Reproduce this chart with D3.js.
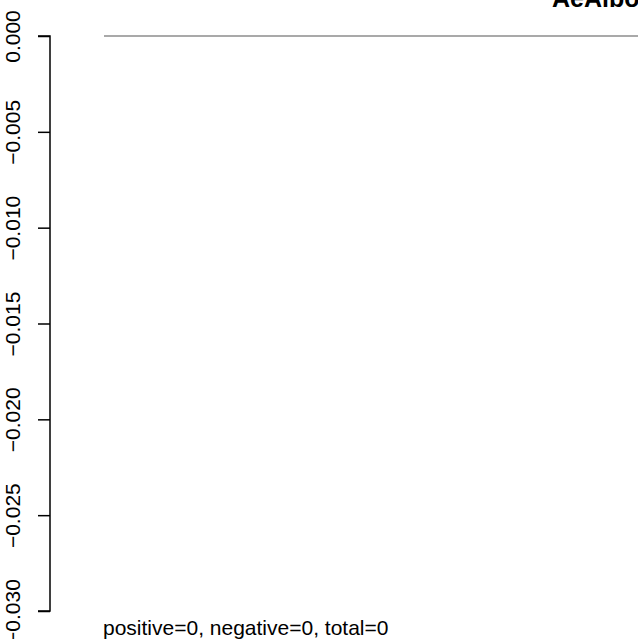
<!DOCTYPE html>
<html><head><meta charset="utf-8">
<script src="https://cdn.jsdelivr.net/npm/d3@7"></script>
<style>html,body{margin:0;padding:0;background:#fff;overflow:hidden}</style>
</head><body>
<script>
const titleText = "AeAlbopictus";
const yTicks = [0, -0.005, -0.010, -0.015, -0.020, -0.025, -0.030];
const yTickLabels = ["0.000", "\u22120.005", "\u22120.010", "\u22120.015", "\u22120.020", "\u22120.025", "\u22120.030"];
const refLine = [0];
const counts = {positive: 0, negative: 0, total: 0};
const points = [];

const W = 638, H = 639;
const svg = d3.select("body").append("svg").attr("width", W).attr("height", H)
  .style("font-family", "'Liberation Sans', Arial, Helvetica, sans-serif");

const y = d3.scaleLinear().domain([-0.030, 0]).range([611, 36]);
const x = d3.scaleLinear().domain([0, 1]).range([104, 700]);

// reference line at 0
svg.selectAll("line.ref").data(refLine).enter().append("line")
  .attr("x1", x(0)).attr("x2", x(1))
  .attr("y1", d => y(d)).attr("y2", d => y(d))
  .attr("stroke", "#8c8c8c").attr("stroke-width", 1.5);

// y axis
const axis = d3.axisLeft(y).tickValues(yTicks).tickSize(12).tickFormat((d, i) => yTickLabels[i]);
const g = svg.append("g").attr("transform", "translate(50,0)").call(axis);
g.select(".domain").attr("d", `M-12,${y(0)}H0V${y(-0.030)}H-12`).attr("stroke", "#000").attr("stroke-width", 1.5);
g.selectAll(".tick line").attr("stroke", "#000").attr("stroke-width", 1.5);
g.selectAll(".tick text").remove();
g.selectAll(".tick").append("text")
  .attr("transform", "translate(-30,0) rotate(-90)")
  .attr("text-anchor", "middle")
  .attr("fill", "#000")
  .style("font-size", "21px")
  .text((d, i) => yTickLabels[i]);

// points (none)
svg.selectAll("circle").data(points).enter().append("circle")
  .attr("cx", d => x(d[0])).attr("cy", d => y(d[1])).attr("r", 3);

// title
svg.append("text").attr("x", 552).attr("y", 7)
  .style("font-size", "25px").style("font-weight", "bold").attr("fill", "#000")
  .text(titleText);

// bottom summary
svg.append("text").attr("x", 103).attr("y", 635)
  .style("font-size", "21px").attr("fill", "#000")
  .text(`positive=${counts.positive}, negative=${counts.negative}, total=${counts.total}`);
</script>
</body></html>
